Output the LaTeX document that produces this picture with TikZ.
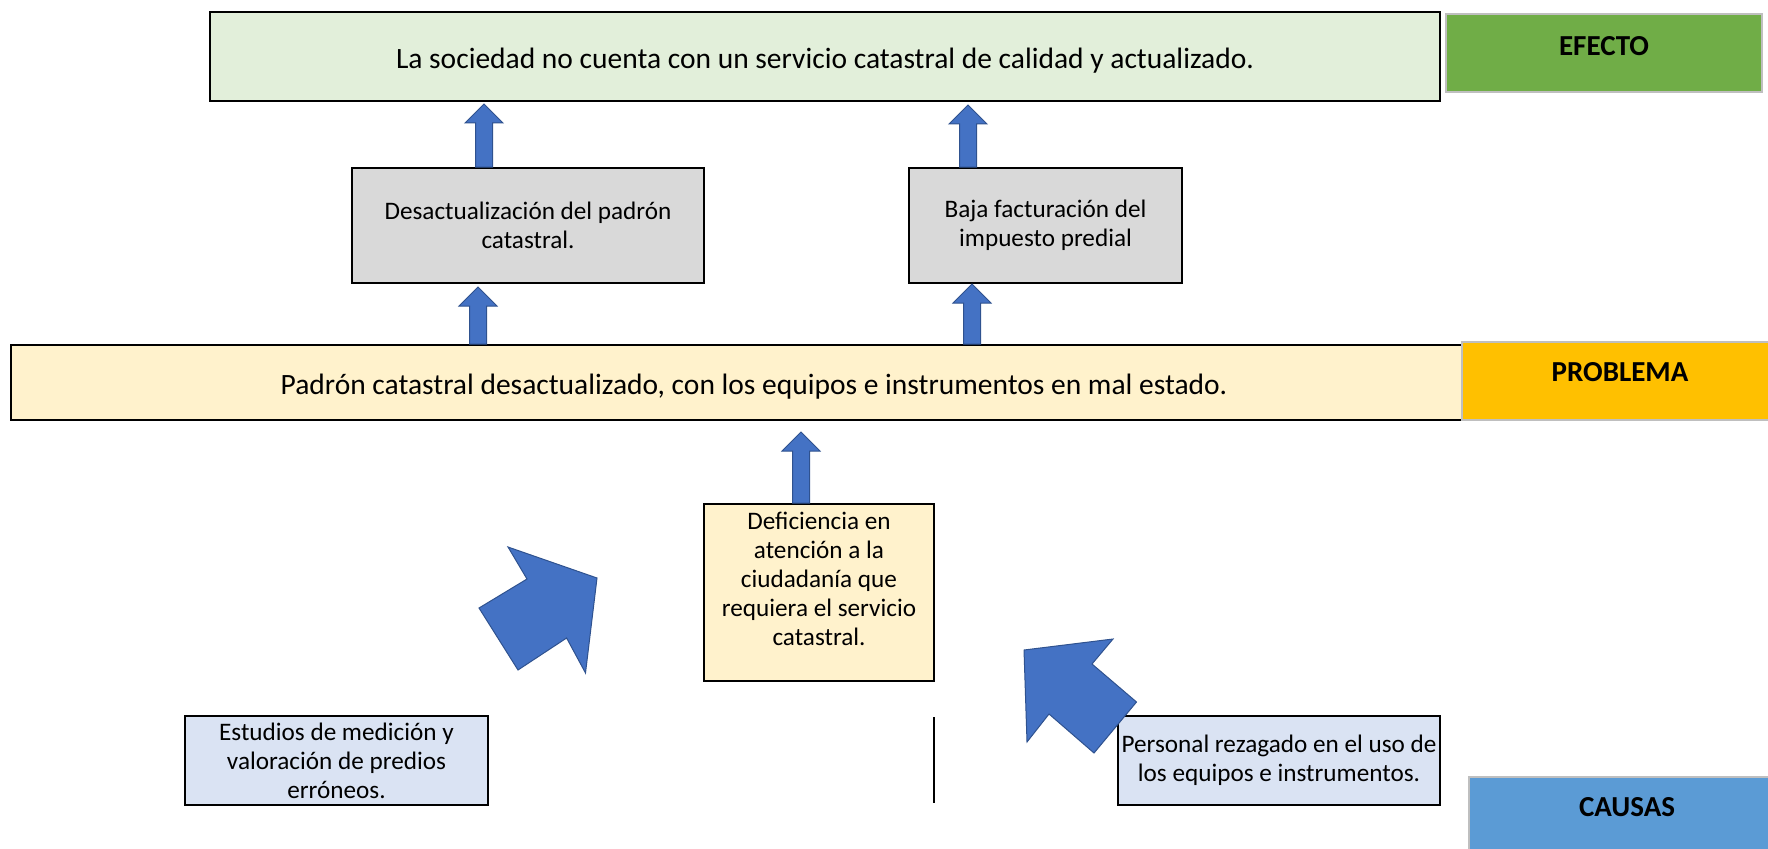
\documentclass[tikz,border=0pt]{standalone}
\usepackage{fontspec}
\setmainfont{Carlito}
\usetikzlibrary{calc}
\definecolor{effill}{HTML}{E2EFDA}
\definecolor{grayfill}{HTML}{D9D9D9}
\definecolor{yelfill}{HTML}{FFF2CC}
\definecolor{bluefill}{HTML}{DAE3F3}
\definecolor{taggreen}{HTML}{70AD47}
\definecolor{tagorange}{HTML}{FFC000}
\definecolor{tagblue}{HTML}{5B9BD5}
\definecolor{arrfill}{HTML}{4472C4}
\definecolor{arrline}{HTML}{2F528F}
\definecolor{tagline}{HTML}{BFBFBF}
\newcommand\blockarrowup[2]{%
  \path[blockarrow] let \p1=#1, \p2=#2 in
    (\x1-8.5pt,\y1) -- (\x1-8.5pt,\y2-19pt) -- (\x1-19pt,\y2-19pt) -- (\x1,\y2)
    -- (\x1+19pt,\y2-19pt) -- (\x1+8.5pt,\y2-19pt) -- (\x1+8.5pt,\y1) -- cycle;}
\begin{document}
\begin{tikzpicture}[x=1pt,y=-1pt,
  box/.style={draw=black, line width=2pt, inner sep=0pt, align=center},
  bigtext/.style={font=\fontsize{29.5}{34}\selectfont},
  smalltext/.style={font=\fontsize{25.2}{29}\selectfont},
  tag/.style={draw=tagline, line width=2pt, inner xsep=0pt, inner ysep=0pt,
    minimum width=316pt, font=\fontsize{29}{32}\selectfont\bfseries, anchor=base},
  blockarrow/.style={fill=arrfill, draw=arrline, line width=1pt, line join=miter}]
\useasboundingbox (0,0) rectangle (1768,848);

% main boxes
\node[box, fill=effill, minimum width=1230pt, minimum height=89pt, bigtext,
  text height=30pt, text depth=6pt] (efecto) at (825,56.5)
  {La sociedad no cuenta con un servicio catastral de calidad y actualizado.};
\node[box, fill=grayfill, minimum width=352pt, minimum height=115pt, smalltext] (desact) at (528,225.5)
  {Desactualización del padrón\\catastral.};
\node[box, fill=grayfill, minimum width=273pt, minimum height=115pt, smalltext] (baja) at (1045.5,225.5)
  {Baja facturación del\\impuesto predial};
\node[box, fill=yelfill, minimum width=1486pt, minimum height=75pt, bigtext,
  text height=29pt, text depth=6pt] (padron) at (754,382.5)
  {Padrón catastral desactualizado, con los equipos e instrumentos en mal estado.};
\node[box, fill=yelfill, minimum width=230pt, minimum height=177pt, smalltext] (defic) at (819,592.5)
  {Deficiencia en\\atención a la\\ciudadanía que\\requiera el servicio\\catastral.\rule[-28pt]{0pt}{28pt}};
\node[box, fill=bluefill, minimum width=303pt, minimum height=89pt, smalltext] (estudios) at (336.5,760.5)
  {Estudios de medición y\\valoración de predios\\erróneos.};
\node[box, fill=bluefill, minimum width=322pt, minimum height=89pt, smalltext] (personal) at (1279,760.5)
  {Personal rezagado en el uso de\\los equipos e instrumentos.};

% tags
\node[tag, fill=taggreen, text height=41.4pt, text depth=36.6pt] (tefecto) at (1604,55.4) {EFECTO};
\node[tag, fill=tagorange, text height=39pt, text depth=39pt] (tproblema) at (1620,381) {PROBLEMA};
\node[tag, fill=tagblue, text height=39pt, text depth=41pt] (tcausas) at (1627,816) {CAUSAS};

% straight block arrows
\coordinate (ax1) at (478,0);
\coordinate (ax2) at (484,0);
\coordinate (ax3) at (972,0);
\coordinate (ax4) at (968,0);
\coordinate (ax5) at (801,0);
\blockarrowup{(padron.north -| ax1)}{($(desact.south -| ax1)+(0,3)$)}
\blockarrowup{(desact.north -| ax2)}{($(efecto.south -| ax2)+(0,2)$)}
\blockarrowup{(padron.north -| ax3)}{(baja.south -| ax3)}
\blockarrowup{(baja.north -| ax4)}{($(efecto.south -| ax4)+(0,3)$)}
\blockarrowup{(defic.north -| ax5)}{($(padron.south -| ax5)+(0,11)$)}

% bent block arrows
\path[blockarrow] (508,547) -- (597,578) -- (585.5,673) -- (566.6,638) -- (518,670)
  -- (479,608) -- (527,579) -- cycle;
\path[blockarrow] (1024,650) -- (1113,639) -- (1092,664) -- (1136.5,702) -- (1094,753)
  -- (1049,714) -- (1027,742) -- cycle;

% vertical line
\coordinate (vl1) at (934,717);
\coordinate (vl2) at (934,803);
\draw[line width=1.5pt] (vl1) -- (vl2);
\end{tikzpicture}
\end{document}
